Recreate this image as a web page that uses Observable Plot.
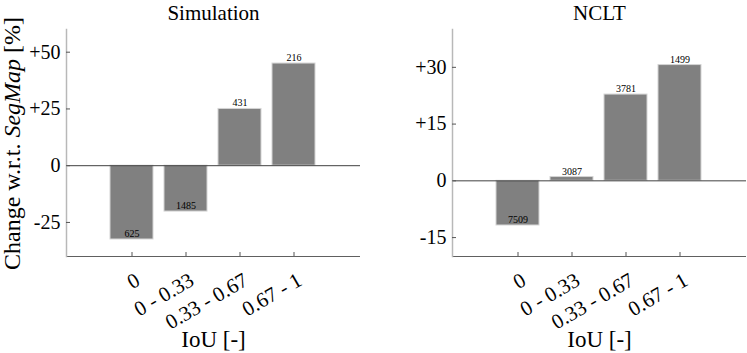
<!DOCTYPE html>
<html><head><meta charset="utf-8">
<script src="https://cdn.jsdelivr.net/npm/d3@7"></script>
<script src="https://cdn.jsdelivr.net/npm/@observablehq/plot@0.6"></script>
<style>
body{margin:0;background:#fff;color:#000;}
#wrap{display:flex;width:747px;height:353px;}
svg, svg text{font-family:"Liberation Serif","Times New Roman",serif !important;}
</style></head><body><div id="wrap"></div>
<script>
const categories = ["0", "0 - 0.33", "0.33 - 0.67", "0.67 - 1"];
const simValues = [-32.5, -20.2, 25.0, 45.0];
const simCounts = ["625", "1485", "431", "216"];
const ncltValues = [-11.8, 1.0, 22.8, 30.6];
const ncltCounts = ["7509", "3087", "3781", "1499"];
const simTicks = [-25, 0, 25, 50];
const ncltTicks = [-15, 0, 15, 30];
const simDomain = [-40, 60];
const ncltDomain = [-20, 40];
const titles = ["Simulation", "NCLT"];
const xLabel = "IoU [-]";
const yLabelParts = ["Change w.r.t. ", "SegMap", " [%]"];

const FF = '"Liberation Serif","Times New Roman",serif';

function panel({title, values, counts, ticks, domain, width, marginLeft, marginRight, withYLabel}) {
  const data = categories.map((c, i) => ({cat: c, value: values[i], count: counts[i]}));
  const fmt = d => d > 0 ? "+" + d : String(d);
  const svg = Plot.plot({
    width, height: 353, marginLeft, marginRight, marginTop: 29, marginBottom: 97,
    style: {fontFamily: FF, background: "white", overflow: "visible", color: "#000"},
    x: {domain: categories, paddingInner: 0.2, paddingOuter: 0.8},
    y: {domain, label: null},
    marks: [
      Plot.barY(data, {x: "cat", y: "value", fill: "#808080", stroke: "#d4d4d4", strokeWidth: 1}),
      Plot.ruleY([0], {stroke: "#404040"}),
      Plot.ruleY([domain[0]], {stroke: "#606060"}),
      Plot.frame({anchor: "left", stroke: "#b8b8b8", strokeWidth: 1.5}),
      Plot.axisY({ticks, tickSize: 0, tickPadding: 6, tickFormat: fmt, fontSize: 20, fontFamily: FF, label: null}),
      Plot.axisY({ticks, tickSize: -4, fill: "none", stroke: "#555"}),
      Plot.axisX({tickSize: -4, fill: "none", stroke: "#555"}),
      Plot.text(data, {x: "cat", frameAnchor: "bottom", text: "cat", rotate: -30, textAnchor: "end", lineAnchor: "middle", dx: 6, dy: 22, fontSize: 21, fontFamily: FF}),
      Plot.text(data, {x: "cat", y: "value", text: "count", lineAnchor: "bottom", dy: -2.5, fontSize: 10, fontFamily: FF}),
      Plot.text([title], {frameAnchor: "top", text: d => d, lineAnchor: "bottom", dy: -10, fontSize: 21, fontFamily: FF}),
      Plot.text([xLabel], {frameAnchor: "bottom", text: d => d, lineAnchor: "bottom", dy: 90, fontSize: 23, fontFamily: FF})
    ]
  });
  if (withYLabel) {
    const s = d3.select(svg);
    const t = s.append("text")
      .attr("transform", `translate(20,${(29 + 256) / 2 + 1}) rotate(-90)`)
      .attr("text-anchor", "middle")
      .attr("font-size", 24)
      .attr("font-family", FF)
      .attr("fill", "#000");
    yLabelParts.forEach((p, i) => {
      t.append("tspan").attr("font-style", i === 1 ? "italic" : null).text(p);
    });
  }
  return svg;
}

const wrap = document.getElementById("wrap");
wrap.appendChild(panel({title: titles[0], values: simValues, counts: simCounts, ticks: simTicks, domain: simDomain, width: 373, marginLeft: 66, marginRight: 13, withYLabel: true}));
wrap.appendChild(panel({title: titles[1], values: ncltValues, counts: ncltCounts, ticks: ncltTicks, domain: ncltDomain, width: 374, marginLeft: 79, marginRight: 1, withYLabel: false}));
</script>
</body></html>
